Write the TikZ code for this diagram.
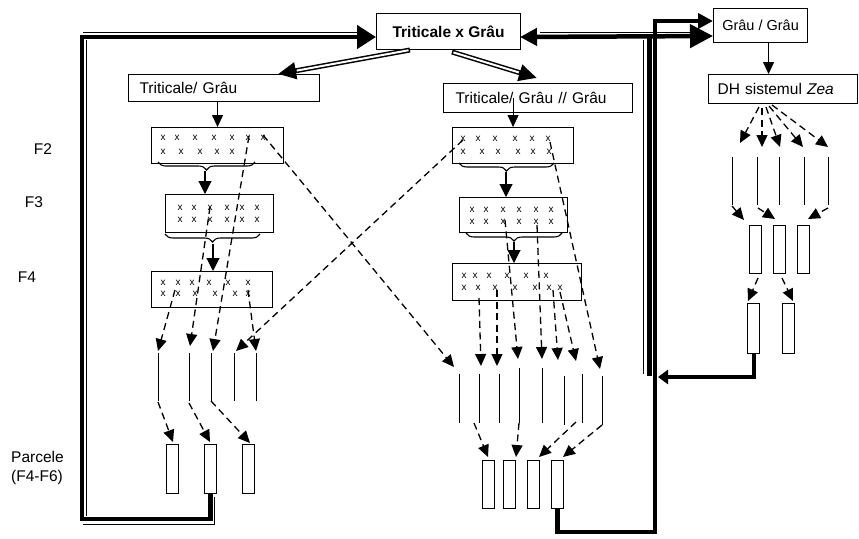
\documentclass[tikz,border=0pt]{standalone}
\usepackage{fontspec}
\setmainfont{Liberation Sans}
\usetikzlibrary{arrows.meta,decorations.pathreplacing}
\begin{document}
\begin{tikzpicture}[x=1pt,y=-1pt,
  every node/.style={font=\fontsize{15.5}{19}\selectfont},
  tbox/.style={draw,line width=1.1pt,anchor=north west,inner ysep=0pt,align=left},
  xbox/.style={draw,line width=1.1pt,anchor=north west,inner sep=0pt},
  pbox/.style={draw,line width=1pt,anchor=north west,inner sep=0pt,minimum width=12pt,minimum height=49pt},
  xm/.style={font=\fontsize{10}{12}\selectfont,inner sep=0pt},
  plantrow/.style={line width=0.9pt},
  dsh/.style={line width=1.3pt,dash pattern=on 7pt off 4.5pt,-{Triangle[length=12pt,width=11pt]}},
  solidarr/.style={line width=1.1pt,-{Triangle[length=12pt,width=11pt]}},
  bigdown/.style={line width=1.1pt,-{Triangle[length=13pt,width=13pt]}},
  brc/.style={decorate,decoration={brace,mirror,amplitude=8pt},line width=1.1pt},
  heavy/.style={line width=4.5pt},
  hair/.style={line width=1pt},
  hollowout/.style={line width=5pt,-{Triangle[length=18pt,width=16pt]}},
  hollowin/.style={line width=2pt,white,shorten >=19pt,shorten <=1.5pt},
]
\useasboundingbox (0,0) rectangle (859,538);

% ---------- text boxes ----------
\node[tbox,font=\bfseries\fontsize{15.5}{19}\selectfont,align=center,
      minimum width=144pt,minimum height=36pt,inner xsep=0pt] (cross) at (376,13) {Triticale x Grâu};
\node[tbox,minimum height=27pt,text width=169pt,inner xsep=11pt] (tg) at (128,74) {Triticale/ Grâu};
\node[tbox,minimum height=29pt,text width=165pt,inner xsep=12pt] (tgg) at (443,83) {Triticale/ Grâu // Grâu};
\node[tbox,font=\fontsize{14.5}{18}\selectfont,align=center,minimum width=94pt,
      minimum height=34pt,inner xsep=0pt] (gg) at (713,8) {Grâu / Grâu};
\node[tbox,minimum height=29pt,text width=131pt,inner xsep=9pt] (dh) at (708,74) {DH sistemul \textit{Zea}};

% ---------- generation labels ----------
\node (f2) at (43,149) {F2};
\node (f3) at (34,202) {F3};
\node (f4) at (27,277) {F4};
\node[align=left,anchor=west,inner sep=0pt] (parc) at (11,467.5) {Parcele\\(F4-F6)};

% ---------- selection boxes ----------
\node[xbox,minimum width=132pt,minimum height=36pt] (lf2) at (151,127) {};
\node[xbox,minimum width=108pt,minimum height=38pt] (lf3) at (165,194) {};
\node[xbox,minimum width=121pt,minimum height=36pt] (lf4) at (151,271) {};
\node[xbox,minimum width=121pt,minimum height=36pt] (mf2) at (452,127) {};
\node[xbox,minimum width=108pt,minimum height=35pt] (mf3) at (459,197) {};
\node[xbox,minimum width=129pt,minimum height=37pt] (mf4) at (452,263) {};

\foreach \u [count=\i] in {163,177,195,214,232,248,263} \node[xm] (lf2a\i) at (\u,138) {x};
\foreach \u [count=\i] in {163,181,200,217,232} \node[xm] (lf2b\i) at (\u,152) {x};
\foreach \u [count=\i] in {180,194,210,227,242,257} {\node[xm] (lf3a\i) at (\u,208) {x}; \node[xm] (lf3b\i) at (\u,220) {x};}
\foreach \u [count=\i] in {163,178,192,209,228,248} \node[xm] (lf4a\i) at (\u,283) {x};
\foreach \u [count=\i] in {163,178,195,215,235,248} \node[xm] (lf4b\i) at (\u,294) {x};
\foreach \u [count=\i] in {463,478,495,515,532,548} \node[xm] (mf2a\i) at (\u,139) {x};
\foreach \u [count=\i] in {463,482,498,518,533,549} \node[xm] (mf2b\i) at (\u,152) {x};
\foreach \u [count=\i] in {472,486,503,519,536,551} {\node[xm] (mf3a\i) at (\u,210) {x}; \node[xm] (mf3b\i) at (\u,222) {x};}
\foreach \u [count=\i] in {464,475,489,507,526,546} \node[xm] (mf4a\i) at (\u,276) {x};
\foreach \u [count=\i] in {464,478,495,515,535,549,560} \node[xm] (mf4b\i) at (\u,288) {x};

% ---------- braces and arrows between generations ----------
\draw[brc] (158,162) -- (255,162);
\draw[brc] (165,234) -- (260,234);
\draw[brc] (459,163) -- (554,163);
\draw[brc] (466,233) -- (562,233);
\coordinate (b1) at (205,171); \coordinate (b2) at (213,244);
\coordinate (b3) at (506,172); \coordinate (b4) at (514,242);
\draw[bigdown] (b1) -- (b1 |- lf3.north);
\draw[bigdown] (b2) -- (b2 |- lf4.north);
\draw[bigdown] (b3) -- (b3 |- mf3.north);
\draw[bigdown] (b4) -- (b4 |- mf4.north);

\draw[solidarr] (tg.south -| lf2.north) -- (lf2.north);
\draw[solidarr] (mf2.north |- tgg.center) -- (mf2.north);
\draw[solidarr] ([xshift=8pt]gg.south) -- ([xshift=8pt]gg.south |- dh.north);

% ---------- plant rows ----------
\foreach \u [count=\i] in {158,189,211,234,256} {
  \coordinate (lvt\i) at (\u,353); \coordinate (lvb\i) at (\u,401);
  \draw[plantrow] (lvt\i) -- (lvb\i);}
\foreach \u/\t/\b [count=\i] in {459/374/423,479/374/423,499/374/423,519/368/423,
                                 542/368/423,564/376/425,582/374/423,602/376/425} {
  \coordinate (mvt\i) at (\u,\t); \coordinate (mvb\i) at (\u,\b);
  \draw[plantrow] (mvt\i) -- (mvb\i);}
\foreach \u [count=\i] in {732,757,779,804,828} {
  \coordinate (rvt\i) at (\u,157); \coordinate (rvb\i) at (\u,205);
  \draw[plantrow] (rvt\i) -- (rvb\i);}

% ---------- plots ----------
\node[pbox] (lp1) at (166,444) {};
\node[pbox] (lp2) at (204,444) {};
\node[pbox] (lp3) at (242,444) {};
\node[pbox,minimum height=48pt] (mp1) at (482,460) {};
\node[pbox,minimum height=48pt] (mp2) at (503,460) {};
\node[pbox,minimum height=48pt] (mp3) at (527,460) {};
\node[pbox,minimum height=48pt] (mp4) at (551,460) {};
\node[pbox,minimum height=48pt] (rp1) at (749,225) {};
\node[pbox,minimum height=48pt] (rp2) at (773,225) {};
\node[pbox,minimum height=48pt] (rp3) at (797,225) {};
\node[pbox,minimum height=50pt] (rq1) at (747,303) {};
\node[pbox,minimum height=50pt] (rq2) at (782,303) {};

% ---------- dashed selection arrows ----------
\foreach \sx/\sy/\ex/\ey [count=\k] in {
   175/290/158/351, 210/207/190/346, 249/136/213/351, 463/140/236/351, 248/290/256/351,
   263/135/454/367, 479/298/481/366, 497/290/497/366, 505/220/518/359, 537/225/542/359,
   553/290/558/360, 560/292/576/361, 550/142/600/369,
   158/402/173/442, 189/403/210/442, 211/401/250/443,
   474/423/488/457, 519/423/516/457, 576/422/539/457, 602/425/563/457,
   759/107/740/143, 762/108/762/147, 766/107/780/147, 769/106/803/147, 772/105/828/147,
   732/206/744/220, 758/208/775/219, 828/208/808/219,
   758/278/748/301, 782/278/793/301} {
  \coordinate (ds\k) at (\sx,\sy); \coordinate (de\k) at (\ex,\ey);
  \draw[dsh] (ds\k) -- (de\k);}

% ---------- hollow arrows from the cross ----------
\coordinate (ha1) at (410,50); \coordinate (ha2) at (278,74);
\coordinate (ha3) at (452,52); \coordinate (ha4) at (537,78);
\draw[hollowout] (ha1) -- (ha2);
\draw[hollowin] (ha1) -- (ha2);
\draw[hollowout] (ha3) -- (ha4);
\draw[hollowin] (ha3) -- (ha4);

% ---------- heavy return lines ----------
\coordinate (c1) at (82,519); \coordinate (c2) at (82,37);
\draw[heavy,-{Triangle[length=19pt,width=23pt]}] (lp2.south) |- (c1) -- (c2) -- (c2 -| cross.west);
\draw[hair] (214,497) |- (83,524);
\draw[hair] (86,40) -- (86,516);
\draw[hair] (83,32) -- (360,32);

\coordinate (h1) at (520,37); \coordinate (h2) at (713,36);
\draw[heavy,{Triangle[length=17pt,width=17pt]}-{Triangle[length=23pt,width=23pt]}] (h1) -- (h2);
\draw[hair] (540,32) -- (690,32);
\coordinate (v1) at (649.5,37); \coordinate (v2) at (649.5,376);
\draw[line width=5pt] (v1) -- (v2);
\draw[hair] (643,40) -- (643,374);

\coordinate (k1) at (655,532); \coordinate (k2) at (655,21);
\draw[heavy,-{Triangle[length=15pt,width=15pt]}] (mp4.south) |- (k1) -- (k2) -- (k2 -| gg.west);

\coordinate (j2) at (658,377);
\draw[line width=4pt,-{Triangle[length=10pt,width=14pt]}] (rq1.south) |- (j2);
\end{tikzpicture}
\end{document}
